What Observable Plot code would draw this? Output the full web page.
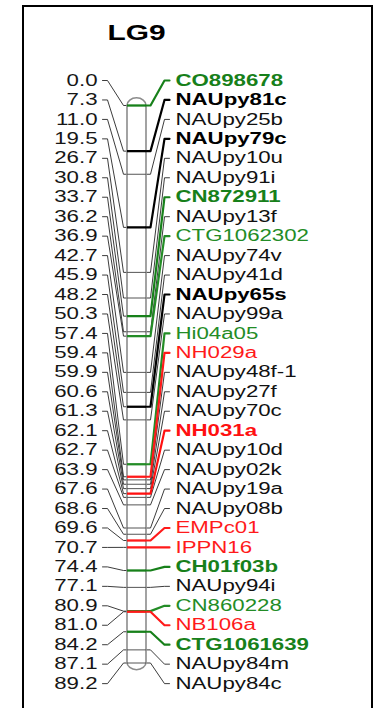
<!DOCTYPE html>
<html><head><meta charset="utf-8">
<script src="https://cdn.jsdelivr.net/npm/d3@7"></script>
<script src="https://cdn.jsdelivr.net/npm/@observablehq/plot@0.6"></script>
<style>
html,body{margin:0;padding:0;background:#fff;overflow:hidden;width:376px;height:708px}
#wrap{position:relative;width:376px;height:708px}
#frame{position:absolute;left:22px;top:5px;width:347px;height:730px;border:2px solid #000;pointer-events:none}
</style></head><body>
<div id="wrap"><div id="chart"></div><div id="frame"></div></div>
<script>
// ---- data ----
const title = "LG9";
const positions = [0.0, 7.3, 11.0, 19.5, 26.7, 30.8, 33.7, 36.2, 36.9, 42.7, 45.9, 48.2, 50.3, 57.4, 59.4, 59.9,
  60.6, 61.3, 62.1, 62.7, 63.9, 67.6, 68.6, 69.6, 70.7, 74.4, 77.1, 80.9, 81.0, 84.2, 87.1, 89.2];
const markers = ["CO898678", "NAUpy81c", "NAUpy25b", "NAUpy79c", "NAUpy10u", "NAUpy91i", "CN872911", "NAUpy13f",
  "CTG1062302", "NAUpy74v", "NAUpy41d", "NAUpy65s", "NAUpy99a", "Hi04a05", "NH029a", "NAUpy48f-1",
  "NAUpy27f", "NAUpy70c", "NH031a", "NAUpy10d", "NAUpy02k", "NAUpy19a", "NAUpy08b", "EMPc01",
  "IPPN16", "CH01f03b", "NAUpy94i", "CN860228", "NB106a", "CTG1061639", "NAUpy84m", "NAUpy84c"];
// G = green bold, g = green, B = black bold, R = red bold, r = red, n = plain
const markerKind = ["G", "B", "n", "B", "n", "n", "G", "n", "g", "n", "n", "B", "n", "g", "r", "n",
  "n", "n", "R", "n", "n", "n", "n", "r", "r", "G", "n", "g", "r", "G", "n", "n"];

// ---- styles & layout ----
const kindColor = {G: "#17801a", g: "#238c26", B: "#000000", R: "#ff1010", r: "#ff1a1a", n: "#111111"};
const isBold = k => k === "G" || k === "B" || k === "R";
const isHi = k => k !== "n";
const L = {numX: 97, hookL0: 102, hookL1: 107, diagL: 123, chromL: 127, chromR: 146,
  diagR: 150, hookR0: 164, hookR1: 169, nameX: 175, titleX: 136};
const slotLo = -4.0, slotHi = 92.5;   // label spread in cM units
const capPad = 1.15;
const textScale = 1.39;

const n = markers.length;
const rows = markers.map((name, i) => ({
  name, cM: positions[i], kind: markerKind[i],
  slot: slotLo + i * (slotHi - slotLo) / (n - 1)
}));
const leftPts = rows.flatMap((r, i) =>
  [[L.hookL0, r.slot], [L.hookL1, r.slot], [L.diagL, r.cM], [L.chromL, r.cM]]
    .map(([x, y]) => ({id: i, x, y, kind: r.kind})));
const rightPts = rows.flatMap((r, i) =>
  [[L.chromR, r.cM], [L.diagR, r.cM], [L.hookR0, r.slot], [L.hookR1, r.slot]]
    .map(([x, y]) => ({id: i, x, y, kind: r.kind})));
const yMin = d3.min(positions), yMax = d3.max(positions);
const chrom = [{y1: yMin - capPad, y2: yMax + capPad}];
const font = "'Liberation Sans', Arial, Helvetica, sans-serif";

const svg = Plot.plot({
  width: 376, height: 708,
  marginLeft: 0, marginRight: 0, marginTop: 105, marginBottom: 45.5,
  x: {domain: [0, 376], range: [0, 376], axis: null},
  y: {domain: [yMin, yMax], reverse: true, axis: null},
  color: {type: "identity"},
  style: {fontFamily: font, background: "white"},
  marks: [
    Plot.line(leftPts, {x: "x", y: "y", z: "id", stroke: "#262626", strokeWidth: 0.9}),
    Plot.line(rightPts.filter(d => !isHi(d.kind)), {x: "x", y: "y", z: "id", stroke: "#262626", strokeWidth: 0.9}),
    Plot.rect(chrom, {x1: L.chromL, x2: L.chromR, y1: "y1", y2: "y2", rx: 9.5, ry: 7.5,
      fill: "white", stroke: "#8c8c8c", strokeWidth: 1.6}),
    Plot.ruleY(rows.filter(d => !isHi(d.kind)), {y: "cM", x1: L.chromL, x2: L.chromR, stroke: "#555", strokeWidth: 1}),
    Plot.ruleY(rows.filter(d => isHi(d.kind)), {y: "cM", x1: L.chromL, x2: L.chromR,
      stroke: d => kindColor[d.kind], strokeWidth: 2.3}),
    Plot.line(rightPts.filter(d => isHi(d.kind)), {x: "x", y: "y", z: "id",
      stroke: d => kindColor[d.kind], strokeWidth: 2.2}),
    Plot.text(rows, {x: L.numX, y: "slot", text: d => d.cM.toFixed(1), textAnchor: "end",
      fontSize: 16, fill: "#161616"}),
    Plot.text(rows.filter(d => isBold(d.kind)), {x: L.nameX, y: "slot", text: "name", textAnchor: "start",
      fontSize: 16, fontWeight: "bold", fill: d => kindColor[d.kind]}),
    Plot.text(rows.filter(d => !isBold(d.kind)), {x: L.nameX, y: "slot", text: "name", textAnchor: "start",
      fontSize: 16, fill: d => kindColor[d.kind]}),
    Plot.text([title], {x: L.titleX, frameAnchor: "top", lineAnchor: "middle", dy: -72.5, text: d => d,
      fontSize: 21.5, fontWeight: "bold", fill: "#000"})
  ]
});
svg.querySelectorAll("text").forEach(t => {
  const tr = t.getAttribute("transform");
  if (tr) t.setAttribute("transform", tr + ` scale(${textScale},1)`);
});
document.getElementById("chart").appendChild(svg);
</script>
</body></html>
